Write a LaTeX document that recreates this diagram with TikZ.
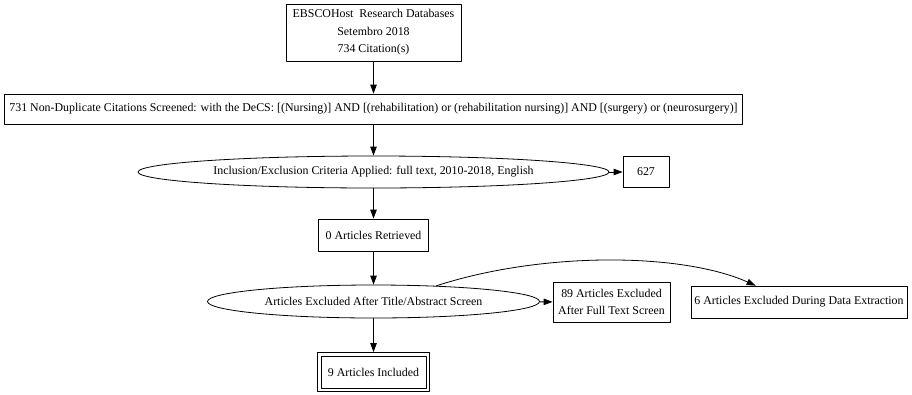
\documentclass[tikz,border=0pt]{standalone}
\usepackage{fontspec}
\setmainfont{Liberation Serif}
\usetikzlibrary{arrows.meta,shapes.geometric,calc}
\begin{document}
\begin{tikzpicture}[x=1pt, y=-1pt, line cap=round, line join=round,
    every node/.style={font=\fontsize{11.9}{17.5}\selectfont, inner sep=0pt, align=center},
    box/.style={draw, rectangle, line width=0.8pt},
    oval/.style={draw, ellipse, line width=0.8pt, inner xsep=-20pt},
    flow/.style={-{Triangle[length=9pt,width=6.5pt]}, line width=0.8pt}]
    \useasboundingbox (0,0) rectangle (912,394);
    \node[box, minimum width=175pt, minimum height=57pt] (src) at (373.5,32.5) {EBSCOHost\ \ Research Databases\\Setembro 2018\\734 Citation(s)};
    \node[box, minimum width=738pt, minimum height=30pt] (dedup) at (373.5,109) {731 Non-Duplicate Citations Screened: with the DeCS: [(Nursing)] AND [(rehabilitation) or (rehabilitation nursing)] AND [(surgery) or (neurosurgery)]};
    \node[oval, minimum width=471pt, minimum height=32pt] (crit) at (373.5,172) {Inclusion/Exclusion Criteria Applied: full text, 2010-2018, English};
    \node[box, minimum width=46pt, minimum height=31pt] (n627) at (646,172) {627};
    \node[box, minimum width=110pt, minimum height=32pt] (ret) at (373.5,235) {0 Articles Retrieved};
    \node[oval, minimum width=332pt, minimum height=33pt] (excl) at (373.5,301.5) {Articles Excluded After Title/Abstract Screen};
    \node[box, minimum width=117pt, minimum height=40pt] (ft) at (611.5,302) {89 Articles Excluded\\After Full Text Screen};
    \node[box, minimum width=216pt, minimum height=32pt] (dx) at (799,302) {6 Articles Excluded During Data Extraction};
    \node[box, minimum width=112pt, minimum height=39pt] (inc) at (373.5,372) {9 Articles Included};
    \draw[line width=0.8pt] ([xshift=4pt,yshift=-4pt]inc.north west) rectangle ([xshift=-4pt,yshift=4pt]inc.south east);
    \foreach \a/\b in {src/dedup, dedup/crit, crit/ret, ret/excl, excl/inc, crit/n627, excl/ft}
        \draw[flow] (\a) -- (\b);
    \draw[flow] (excl.14) .. controls (540,252) and (680,252) .. ($(dx.north west)!0.3!(dx.north east)$);
\end{tikzpicture}
\end{document}
